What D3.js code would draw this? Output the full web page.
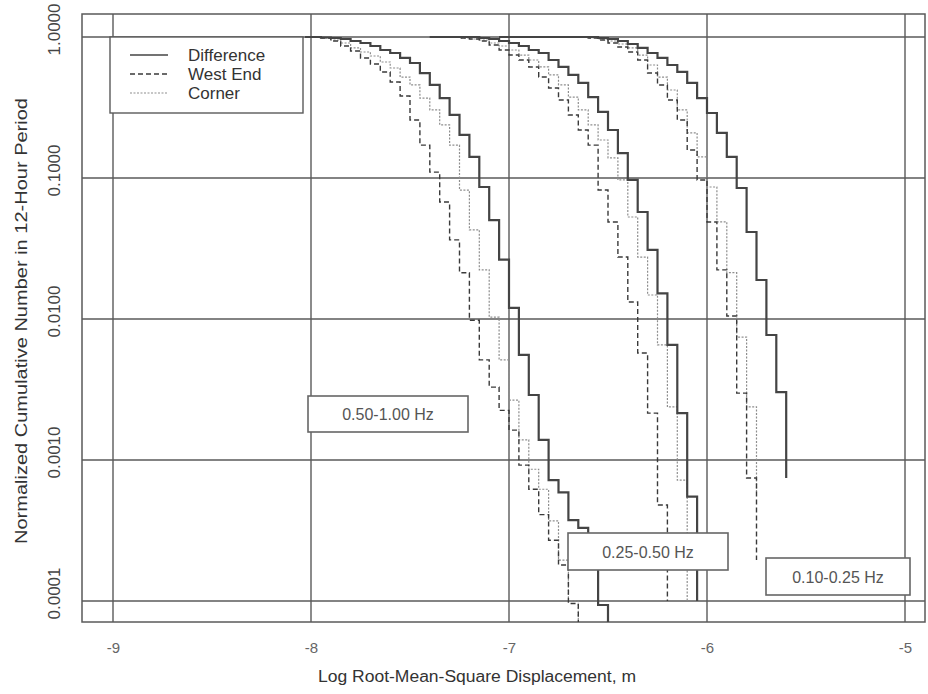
<!DOCTYPE html>
<html lang="en">
<head>
<meta charset="utf-8">
<title>Cumulative RMS displacement</title>
<script src="https://cdn.jsdelivr.net/npm/d3@7"></script>
<style>
  body { margin: 0; background: #fff; }
  svg { display: block; font-family: "Liberation Sans", Arial, sans-serif; }
</style>
</head>
<body>
<script>
// axis ticks
var xTicks = [-9, -8, -7, -6, -5];
var yTicks = [1, 0.1, 0.01, 0.001, 0.0001];
var legendNames = ["Difference", "West End", "Corner"];
var bandNames = ["0.50-1.00 Hz", "0.25-0.50 Hz", "0.10-0.25 Hz"];

// 0.50-1.00 Hz band
var hiDiffX = [-8.03,-7.95,-7.90,-7.85,-7.80,-7.75,-7.70,-7.65,-7.60,-7.55,-7.50,-7.45,-7.40,-7.35,-7.30,-7.25,-7.20,-7.15,-7.10,-7.05,-7.00,-6.95,-6.90,-6.85,-6.80,-6.75,-6.70,-6.65,-6.60,-6.55,-6.50];
var hiDiffY = [1.0,0.992,0.984,0.968,0.937,0.907,0.863,0.809,0.770,0.710,0.654,0.555,0.457,0.369,0.280,0.202,0.141,0.0863,0.0503,0.0264,0.0120,0.00556,0.00289,0.00139,0.00072,0.00059,0.000375,0.00033,0.000195,0.0000937,0.000045];
var hiWestX = [-8.03,-7.95,-7.90,-7.85,-7.80,-7.75,-7.70,-7.65,-7.60,-7.55,-7.50,-7.45,-7.40,-7.35,-7.30,-7.25,-7.20,-7.15,-7.10,-7.05,-7.00,-6.95,-6.90,-6.85,-6.80,-6.75,-6.70,-6.65];
var hiWestY = [1.0,0.984,0.937,0.863,0.796,0.710,0.643,0.565,0.480,0.382,0.258,0.171,0.110,0.0675,0.0364,0.0213,0.0098,0.00513,0.00329,0.00225,0.00163,0.00092,0.00062,0.00041,0.00027,0.00018,0.000096,0.000053];
var hiCornerX = [-8.03,-7.95,-7.90,-7.85,-7.80,-7.75,-7.70,-7.65,-7.60,-7.55,-7.50,-7.45,-7.40,-7.35,-7.30,-7.25,-7.20,-7.15,-7.10,-7.05,-7.00,-6.95,-6.90,-6.85,-6.80,-6.75,-6.70,-6.65];
var hiCornerY = [1.0,0.984,0.952,0.907,0.836,0.783,0.733,0.665,0.603,0.520,0.457,0.369,0.304,0.238,0.171,0.082,0.0429,0.0223,0.0103,0.00513,0.00266,0.00139,0.00086,0.00062,0.00037,0.000195,0.0001,0.000053];

// 0.25-0.50 Hz band
var midDiffX = [-7.40,-7.15,-7.10,-7.05,-7.00,-6.95,-6.90,-6.85,-6.80,-6.75,-6.70,-6.65,-6.60,-6.55,-6.50,-6.45,-6.40,-6.35,-6.30,-6.25,-6.20,-6.15,-6.10,-6.05];
var midDiffY = [1.0,0.984,0.968,0.937,0.907,0.863,0.809,0.770,0.687,0.613,0.538,0.472,0.375,0.294,0.219,0.150,0.0969,0.0574,0.0309,0.0152,0.00655,0.00215,0.00055,0.0001];
var midWestX = [-7.40,-7.25,-7.20,-7.15,-7.10,-7.05,-7.00,-6.95,-6.90,-6.85,-6.80,-6.75,-6.70,-6.65,-6.60,-6.55,-6.50,-6.45,-6.40,-6.35,-6.30,-6.25,-6.20];
var midWestY = [1.0,0.984,0.968,0.937,0.877,0.809,0.745,0.687,0.613,0.520,0.435,0.357,0.280,0.219,0.171,0.0822,0.0488,0.0275,0.0132,0.00574,0.00215,0.00048,0.0001];
var midCornerX = [-7.40,-7.25,-7.20,-7.15,-7.10,-7.05,-7.00,-6.95,-6.90,-6.85,-6.80,-6.75,-6.70,-6.65,-6.60,-6.55,-6.50,-6.45,-6.40,-6.35,-6.30,-6.25,-6.20,-6.15,-6.10];
var midCornerY = [1.0,0.984,0.968,0.952,0.907,0.863,0.809,0.745,0.687,0.613,0.538,0.457,0.375,0.304,0.238,0.186,0.139,0.0969,0.0529,0.0275,0.0148,0.00655,0.00238,0.00072,0.0001];

// 0.10-0.25 Hz band
var loDiffX = [-7.05,-6.55,-6.50,-6.45,-6.40,-6.35,-6.30,-6.25,-6.20,-6.15,-6.10,-6.05,-6.00,-5.95,-5.90,-5.85,-5.80,-5.75,-5.70,-5.65,-5.60];
var loDiffY = [1.0,0.984,0.968,0.937,0.892,0.836,0.770,0.710,0.633,0.565,0.472,0.369,0.289,0.209,0.141,0.0849,0.0414,0.0189,0.0077,0.00303,0.000745];
var loWestX = [-7.05,-6.60,-6.55,-6.50,-6.45,-6.40,-6.35,-6.30,-6.25,-6.20,-6.15,-6.10,-6.05,-6.00,-5.95,-5.90,-5.85,-5.80,-5.75];
var loWestY = [1.0,0.984,0.952,0.907,0.849,0.783,0.687,0.555,0.457,0.357,0.258,0.158,0.0969,0.0488,0.0223,0.0105,0.00298,0.000745,0.000195];
var loCornerX = [-7.05,-6.60,-6.55,-6.50,-6.45,-6.40,-6.35,-6.30,-6.25,-6.20,-6.15,-6.10,-6.05,-6.00,-5.95,-5.90,-5.85,-5.80,-5.75];
var loCornerY = [1.0,0.984,0.968,0.937,0.892,0.836,0.745,0.633,0.520,0.421,0.304,0.209,0.141,0.0863,0.0488,0.0213,0.00745,0.00238,0.00058];

var series = [
    {kind: "corner", xs: hiCornerX, ys: hiCornerY},
    {kind: "corner", xs: midCornerX, ys: midCornerY},
    {kind: "corner", xs: loCornerX, ys: loCornerY},
    {kind: "west", xs: hiWestX, ys: hiWestY},
    {kind: "west", xs: midWestX, ys: midWestY},
    {kind: "west", xs: loWestX, ys: loWestY},
    {kind: "diff", xs: hiDiffX, ys: hiDiffY},
    {kind: "diff", xs: midDiffX, ys: midDiffY},
    {kind: "diff", xs: loDiffX, ys: loDiffY}
];

var styles = {
    diff:   {stroke: "#444", width: 2.2, dash: null},
    west:   {stroke: "#3a3a3a", width: 1.4, dash: "5,3"},
    corner: {stroke: "#8e8e8e", width: 1.2, dash: "2,1.5"}
};
var legendKinds = ["diff", "west", "corner"];

var svg = d3.select("body").append("svg").attr("width", 928).attr("height", 694);
var frame = {left: 82, right: 925, top: 14, bottom: 622};

var x = d3.scaleLinear().domain([-9, -5]).range([113, 905]);
var y = d3.scaleLog().domain([0.0001, 1]).range([601, 37]);

var gridColor = "#5a5a5a";

// grid lines
svg.append("g").selectAll("line")
    .data(xTicks).join("line")
    .attr("x1", d => x(d)).attr("x2", d => x(d))
    .attr("y1", frame.top).attr("y2", frame.bottom)
    .attr("stroke", gridColor).attr("stroke-width", 1.4);

svg.append("g").selectAll("line")
    .data(yTicks).join("line")
    .attr("x1", frame.left).attr("x2", frame.right)
    .attr("y1", d => y(d)).attr("y2", d => y(d))
    .attr("stroke", gridColor).attr("stroke-width", 1.4);

svg.append("rect")
    .attr("x", frame.left).attr("y", frame.top)
    .attr("width", frame.right - frame.left).attr("height", frame.bottom - frame.top)
    .attr("fill", "none").attr("stroke", gridColor).attr("stroke-width", 1.5);

// curves
svg.append("clipPath").attr("id", "plotclip")
    .append("rect")
    .attr("x", frame.left).attr("y", frame.top)
    .attr("width", frame.right - frame.left).attr("height", frame.bottom - frame.top);

var line = d3.line()
    .x(d => x(d[0]))
    .y(d => y(d[1]))
    .curve(d3.curveStepAfter);

svg.append("g").attr("clip-path", "url(#plotclip)")
    .selectAll("path")
    .data(series).join("path")
    .attr("d", d => line(d3.zip(d.xs, d.ys)))
    .attr("fill", "none")
    .attr("stroke", d => styles[d.kind].stroke)
    .attr("stroke-width", d => styles[d.kind].width)
    .attr("stroke-dasharray", d => styles[d.kind].dash);

// legend
var legend = svg.append("g");
legend.append("rect")
    .attr("x", 110).attr("y", 37).attr("width", 193).attr("height", 76)
    .attr("fill", "#fff").attr("stroke", gridColor).attr("stroke-width", 1.4);

legendKinds.forEach(function(k, i) {
    var ly = 55 + i * 19;
    legend.append("line")
        .attr("x1", 130).attr("x2", 168).attr("y1", ly).attr("y2", ly)
        .attr("stroke", styles[k].stroke)
        .attr("stroke-width", k == "diff" ? 1.6 : styles[k].width)
        .attr("stroke-dasharray", styles[k].dash);
    legend.append("text")
        .attr("x", 188).attr("y", ly + 6)
        .attr("font-size", 17).attr("fill", "#333")
        .text(legendNames[i]);
});

// band label boxes
var boxes = [
    {x: 308, y: 396, w: 160, h: 36},
    {x: 568, y: 533, w: 160, h: 37},
    {x: 766, y: 558, w: 144, h: 37}
];
var bandG = svg.append("g").selectAll("g")
    .data(boxes).join("g");
bandG.append("rect")
    .attr("x", d => d.x).attr("y", d => d.y)
    .attr("width", d => d.w).attr("height", d => d.h)
    .attr("fill", "#fff").attr("stroke", "#666").attr("stroke-width", 1.6);
bandG.append("text")
    .attr("x", d => d.x + d.w / 2).attr("y", d => d.y + d.h / 2 + 6)
    .attr("text-anchor", "middle")
    .attr("font-size", 16).attr("fill", "#555")
    .text((d, i) => bandNames[i]);

// axes
var xAxis = svg.append("g")
    .attr("transform", "translate(0," + frame.bottom + ")")
    .call(d3.axisBottom(x).tickValues(xTicks).tickSize(0).tickPadding(20).tickFormat(d => String(d)));
xAxis.select(".domain").remove();
xAxis.selectAll("text").attr("font-size", 15).attr("fill", "#666")
    .style("font-family", "'Liberation Sans', Arial, sans-serif");

var yAxis = svg.append("g")
    .attr("transform", "translate(" + frame.left + ",0)")
    .call(d3.axisLeft(y).tickValues(yTicks).tickSize(0).tickFormat(d3.format(".4f")));
yAxis.select(".domain").remove();
yAxis.selectAll("text")
    .attr("transform", "rotate(-90)")
    .attr("x", 8).attr("y", -22).attr("dy", 0)
    .style("text-anchor", "middle")
    .attr("font-size", 17).attr("fill", "#444")
    .style("font-family", "'Liberation Sans', Arial, sans-serif");

// axis titles
svg.append("text")
    .attr("x", 477).attr("y", 682)
    .attr("text-anchor", "middle")
    .attr("font-size", 16).attr("fill", "#333")
    .attr("textLength", 318).attr("lengthAdjust", "spacingAndGlyphs")
    .text("Log Root-Mean-Square Displacement, m");

svg.append("text")
    .attr("transform", "translate(27,321) rotate(-90)")
    .attr("text-anchor", "middle")
    .attr("font-size", 16).attr("fill", "#333")
    .attr("textLength", 446).attr("lengthAdjust", "spacingAndGlyphs")
    .text("Normalized Cumulative Number in 12-Hour Period");
</script>
</body>
</html>
